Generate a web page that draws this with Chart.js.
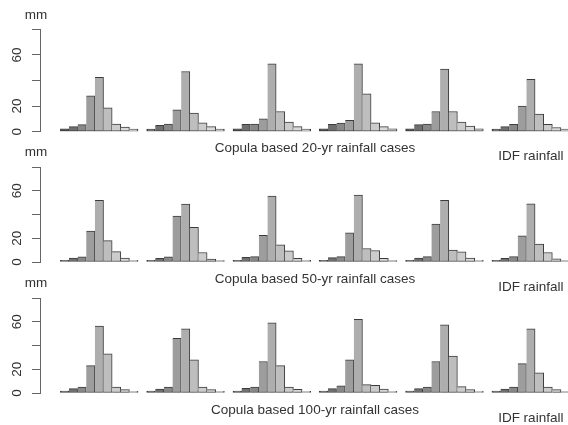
<!DOCTYPE html>
<html><head><meta charset="utf-8">
<script src="https://cdn.jsdelivr.net/npm/chart.js@4"></script>
<style>
html,body{margin:0;padding:0;background:#fff;overflow:hidden}
#wrap{position:relative;width:568px;height:425px}
canvas{position:absolute;left:0;top:0}
</style>
</head><body>
<div id="wrap">
<canvas id="c20" width="568" height="425"></canvas>
<canvas id="c50" width="568" height="425"></canvas>
<canvas id="c100" width="568" height="425"></canvas>
</div>
<script>
// ---- data ----
const groupNames = ['Copula case 1','Copula case 2','Copula case 3','Copula case 4','Copula case 5','IDF'];
const yTickValues = [0, 20, 40, 60, 80];
const yTickLabels = ['0', '20', '', '60', ''];
const unitLabel = 'mm';

const copula20 = [
  [2.3, 4.0, 5.5, 28.0, 42.5, 18.7, 6.0, 3.7, 2.0],
  [2.0, 5.0, 6.0, 17.0, 47.0, 14.5, 7.0, 4.0, 2.0],
  [2.3, 5.7, 6.0, 10.0, 53.0, 15.8, 7.5, 4.0, 2.0],
  [2.3, 5.7, 6.7, 8.8, 53.0, 29.5, 7.0, 4.0, 2.3],
  [2.3, 5.5, 6.0, 15.8, 49.0, 15.8, 7.5, 4.3, 2.3]
];
const idf20 = [2.0, 4.0, 5.7, 20.0, 41.0, 13.7, 5.7, 3.3, 2.0];

const copula50 = [
  [1.5, 3.4, 4.3, 26.0, 52.0, 18.0, 8.8, 3.2, 1.5],
  [1.5, 3.0, 4.3, 38.7, 48.7, 29.3, 8.0, 2.5, 1.3],
  [1.5, 4.0, 4.5, 22.5, 55.5, 14.5, 9.4, 3.0, 1.5],
  [1.5, 3.7, 4.5, 24.5, 56.4, 11.4, 9.7, 3.0, 1.3],
  [1.5, 3.4, 4.5, 32.0, 52.0, 10.0, 8.5, 3.4, 1.5]
];
const idf50 = [1.5, 3.0, 4.5, 22.0, 49.0, 15.0, 8.0, 2.7, 1.5];

const copula100 = [
  [1.7, 3.7, 5.0, 23.0, 56.4, 33.0, 5.0, 2.8, 1.4],
  [1.7, 3.4, 5.0, 46.0, 54.0, 28.0, 5.0, 2.8, 1.4],
  [1.7, 4.0, 5.0, 26.5, 59.0, 23.0, 5.0, 3.0, 1.4],
  [1.7, 3.7, 6.0, 28.0, 62.0, 7.0, 6.5, 3.4, 1.4],
  [1.7, 3.7, 5.0, 26.5, 57.5, 31.0, 5.4, 2.8, 1.4]
];
const idf100 = [1.7, 3.4, 5.0, 24.8, 54.0, 17.0, 5.0, 2.8, 1.4];

const captions20 = ['Copula based 20-yr rainfall cases', 'IDF rainfall'];
const captions50 = ['Copula based 50-yr rainfall cases', 'IDF rainfall'];
const captions100 = ['Copula based 100-yr rainfall cases', 'IDF rainfall'];

// ---- style ----
const barColors = ['#4D4D4D','#6F6F6F','#888888','#9D9D9D','#AEAEAE','#BEBEBE','#CCCCCC','#D9D9D9','#E6E6E6'];
const FONT = '13.5px "Liberation Sans", Arial, Helvetica, sans-serif';
const TEXT_COLOR = '#333';
const AXIS_COLOR = '#666';

const rows = [
  { id: 'c20',  groups: copula20.concat([idf20]),  caps: captions20,  top: 29.3,  base: 131.7 },
  { id: 'c50',  groups: copula50.concat([idf50]),  caps: captions50,  top: 167,   base: 262 },
  { id: 'c100', groups: copula100.concat([idf100]), caps: captions100, top: 298,   base: 393 }
];

// R barplot layout: groups of 9 bars, 1 bar-width space before each group
const nBars = 9, groupStride = nBars + 1;
const xMinR = -1.36; // 4% extension of [1, 60]
const unitPx = 8.631;

const textPlugin = {
  id: 'rtext',
  afterDraw(chart, args, opts) {
    const ctx = chart.ctx;
    const ys = chart.scales.y, xs = chart.scales.x;
    ctx.save();
    ctx.font = FONT;
    ctx.fillStyle = TEXT_COLOR;
    ctx.textAlign = 'center';
    ctx.textBaseline = 'middle';
    ctx.fillText(unitLabel, 36, ys.getPixelForValue(80) - 14.5);
    yTickValues.forEach((v, i) => {
      if (!yTickLabels[i]) return;
      ctx.save();
      ctx.translate(17, ys.getPixelForValue(v));
      ctx.rotate(-Math.PI / 2);
      ctx.fillText(yTickLabels[i], 0, 0);
      ctx.restore();
    });
    const base = ys.getPixelForValue(0);
    ctx.fillText(opts.caps[0], xs.getPixelForValue(30.5), base + 17);
    ctx.fillText(opts.caps[1], xs.getPixelForValue(5 * groupStride + 1 + nBars / 2), base + 25);
    ctx.restore();
  }
};

rows.forEach(row => {
  const points = [];
  const colors = [];
  row.groups.forEach((vals, g) => {
    vals.forEach((v, i) => {
      points.push({ x: g * groupStride + 1 + i + 0.5, y: v });
      colors.push(barColors[i]);
    });
  });
  const areaWidth = 568 - 40;
  new Chart(document.getElementById(row.id), {
    type: 'bar',
    data: {
      datasets: [{
        data: points,
        backgroundColor: colors,
        borderColor: '#3c3c3c',
        borderWidth: (c) => ({ top: 1, right: 1, bottom: 1, left: (c.dataIndex % nBars === 0) ? 1 : 0 }),
        borderSkipped: false,
        barPercentage: 1,
        categoryPercentage: 1
      }]
    },
    options: {
      responsive: false,
      animation: false,
      devicePixelRatio: 1,
      layout: { padding: { top: row.top, bottom: 425 - row.base, left: 0, right: 0 } },
      plugins: { legend: { display: false }, tooltip: { enabled: false }, rtext: { caps: row.caps } },
      scales: {
        x: {
          type: 'linear',
          display: false,
          offset: false,
          grid: { offset: false },
          bounds: 'data',
          min: xMinR,
          max: xMinR + areaWidth / unitPx,
          ticks: { stepSize: 10 }
        },
        y: {
          min: 0, max: 80,
          afterFit(scale) { scale.width = 40; },
          ticks: { display: false, stepSize: 20 },
          grid: { drawOnChartArea: false, drawTicks: true, tickLength: 8, color: AXIS_COLOR, lineWidth: 1 },
          border: { display: true, color: AXIS_COLOR, width: 1 }
        }
      }
    },
    plugins: [textPlugin]
  });
});
</script>
</body></html>
